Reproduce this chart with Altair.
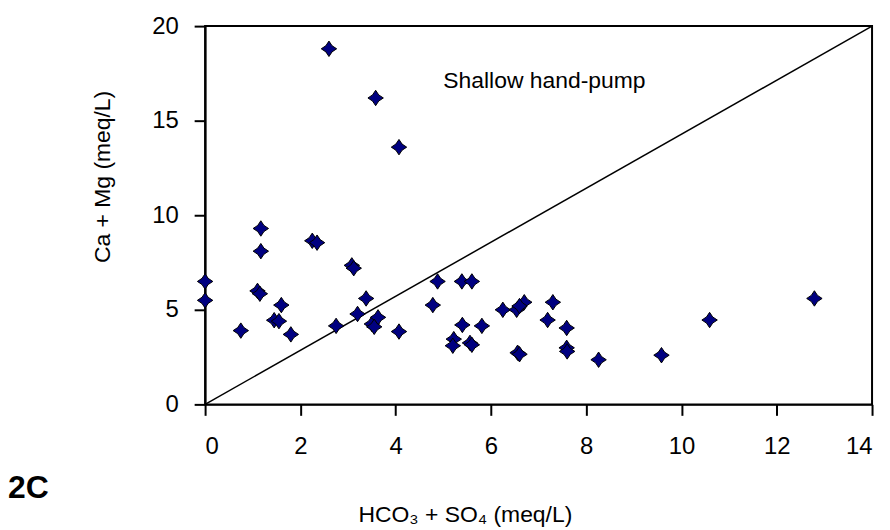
import altair as alt
import pandas as pd

# HCO3 + SO4 (meq/L)
x_vals = [0.0, 0.0, 0.75, 1.1, 1.15, 1.17, 1.17, 1.45, 1.55, 1.6, 1.8, 2.25, 2.35,
          2.75, 3.08, 3.12, 3.2, 3.38, 3.5, 3.63, 3.55, 4.07, 4.78, 4.88, 5.39, 5.6,
          5.4, 5.81, 5.22, 5.2, 5.56, 5.6, 6.25, 6.54, 6.7, 6.6, 6.56, 6.6, 7.3,
          7.19, 7.59, 7.59, 7.6, 8.26, 9.58, 10.59, 12.79, 2.6, 3.58, 4.07]
# Ca + Mg (meq/L)
y_vals = [6.5, 5.5, 3.9, 6.0, 5.85, 9.3, 8.1, 4.45, 4.4, 5.25, 3.7, 8.65, 8.55,
          4.15, 7.35, 7.2, 4.78, 5.6, 4.25, 4.6, 4.1, 3.85, 5.25, 6.5, 6.5, 6.5,
          4.2, 4.15, 3.45, 3.1, 3.25, 3.15, 5.0, 5.0, 5.4, 5.2, 2.73, 2.65, 5.4,
          4.46, 4.04, 2.99, 2.8, 2.36, 2.6, 4.46, 5.6, 18.8, 16.2, 13.6]

line_x = [0, 14]
line_y = [0, 20]

x_ticks = [0, 2, 4, 6, 8, 10, 12, 14]
y_ticks = [0, 5, 10, 15, 20]

FONT = "Liberation Sans"

pts = pd.DataFrame({"x": x_vals, "y": y_vals})
ln = pd.DataFrame({"x": line_x, "y": line_y})
ann = pd.DataFrame({"x": [5.0], "y": [16.75], "t": ["Shallow hand-pump"]})

xscale = alt.Scale(domain=[0, 14], nice=False, zero=False)
yscale = alt.Scale(domain=[0, 20], nice=False, zero=False)

xaxis = alt.Axis(values=x_ticks, title="HCO₃ + SO₄ (meq/L)", grid=False,
                 domainColor="black", domainWidth=2, tickColor="black",
                 tickWidth=2, tickSize=11, labelPadding=19, labelFontSize=24,
                 labelFont=FONT, labelColor="black", titleFont=FONT,
                 titleFontSize=23, titleFontWeight="normal", titleColor="black",
                 titleX=261, titleY=118, titleAnchor="middle",
                 titleAlign="center", titleBaseline="alphabetic")
yaxis = alt.Axis(values=y_ticks, title="Ca + Mg (meq/L)", grid=False,
                 domainColor="black", domainWidth=2, tickColor="black",
                 tickWidth=2, tickSize=11, labelPadding=16, labelFontSize=24,
                 labelFont=FONT, labelColor="black", titleFont=FONT,
                 titleFontSize=23, titleFontWeight="normal", titleColor="black",
                 titleAngle=270, titleX=-103, titleY=151, titleAlign="center",
                 titleBaseline="middle")

star = "M0,-1 L0.4,-0.4 L1,0 L0.4,0.4 L0,1 L-0.4,0.4 L-1,0 L-0.4,-0.4 Z"

line = alt.Chart(ln).mark_line(color="black", strokeWidth=1.5).encode(
    x=alt.X("x:Q", scale=xscale, axis=xaxis),
    y=alt.Y("y:Q", scale=yscale, axis=yaxis),
)

points = alt.Chart(pts).mark_point(
    shape=star, filled=True, fill="#000080", stroke="black", strokeWidth=1,
    size=240, opacity=1
).encode(
    x=alt.X("x:Q", scale=xscale),
    y=alt.Y("y:Q", scale=yscale),
)

label = alt.Chart(ann).mark_text(
    font=FONT, fontSize=23, align="left", baseline="alphabetic", color="black"
).encode(
    x=alt.X("x:Q", scale=xscale),
    y=alt.Y("y:Q", scale=yscale),
    text="t:N",
)

panel = alt.Chart(pd.DataFrame({"t": ["2C"]})).mark_text(
    font=FONT, fontSize=32, fontWeight="bold", align="left",
    baseline="alphabetic", color="black"
).encode(x=alt.value(-198), y=alt.value(474), text="t:N")

chart = alt.layer(line, points, label, panel).properties(
    width=670, height=380,
    autosize=alt.AutoSizeParams(type="none"),
    padding={"left": 198, "top": 17, "right": 10, "bottom": 123},
    background="white",
).configure_view(stroke="black", strokeWidth=2)

chart.save("out.html", embed_options={"renderer": "svg", "actions": False})
